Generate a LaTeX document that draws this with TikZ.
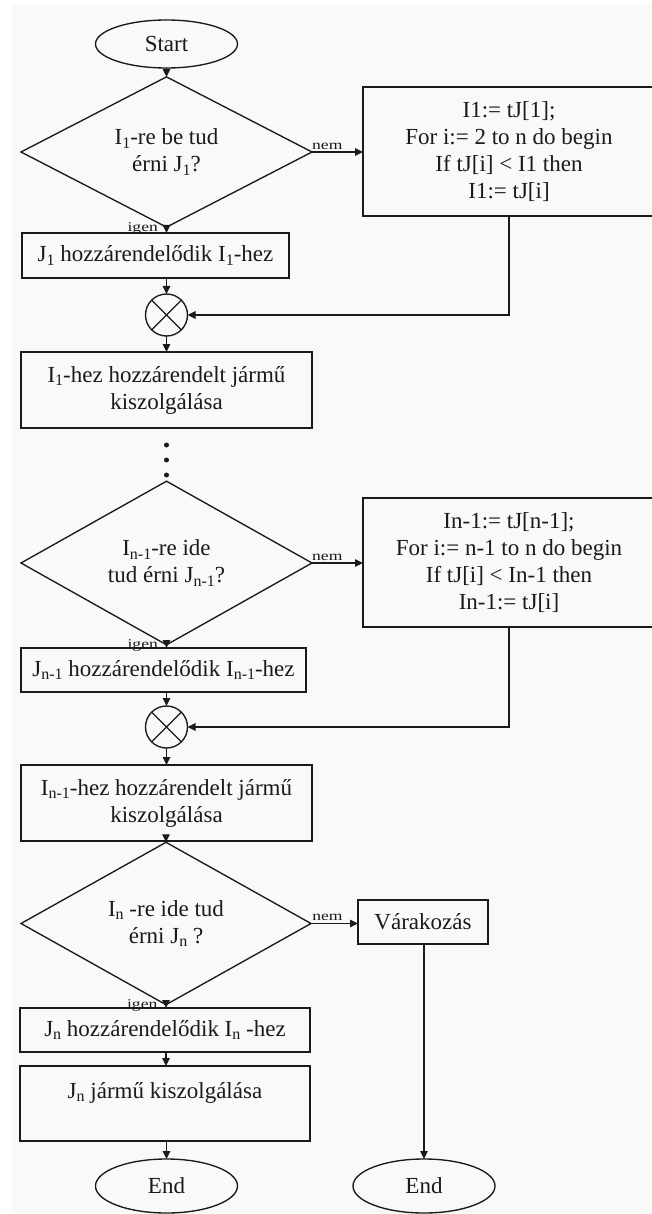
\documentclass[tikz,border=0pt]{standalone}
\usepackage{fontspec}
\setmainfont{Liberation Serif}
\usepackage{graphicx}
\usetikzlibrary{shapes.geometric,arrows.meta}
\definecolor{bg}{HTML}{F9F9F9}
\definecolor{ink}{HTML}{1A1A1A}
\newcommand{\sbs}[1]{\raisebox{-3.5pt}{\fontsize{16}{16}\selectfont #1}}
\newcommand{\lbl}[1]{\scalebox{1.3}[1]{\fontsize{13.5}{13.5}\selectfont #1}}
\begin{document}
\begin{tikzpicture}[x=1pt,y=-1pt,
  every node/.style={font=\fontsize{23}{27}\selectfont, text=ink},
  box/.style={draw=ink, line width=1.35pt, rectangle, inner sep=0pt, outer sep=0pt, align=center},
  term/.style={draw=ink, line width=1.35pt, ellipse, minimum width=142pt, inner sep=0pt, outer sep=0pt},
  dec/.style={draw=ink, line width=1.35pt, diamond, inner sep=0pt, outer sep=0pt, align=center},
  merge/.style={draw=ink, line width=1.35pt, circle, minimum size=42pt, inner sep=0pt, outer sep=0pt},
  dotnode/.style={circle, fill=ink, minimum size=5pt, inner sep=0pt},
  lab/.style={inner sep=0pt},
  arr/.style={draw=ink, line width=1.35pt, -{Triangle[length=8pt,width=7.5pt]}},
  ln/.style={draw=ink, line width=1.1pt}
]
\useasboundingbox (0,0) rectangle (652,1214);
\fill[white] (0,0) rectangle (652,1214);
\fill[bg] (12,5) rectangle (652,1214);

% nodes
\node[term, minimum height=48pt] (start) at (166.5,44) {Start};
\node[dec, minimum width=291pt, minimum height=135pt] (d1) at (166.5,152)
  {I\sbs{1}-re be tud\\érni J\sbs{1}?};
\begin{scope}
\clip (0,0) rectangle (652,1214);
\node[box, minimum width=292pt, minimum height=129pt] (p1) at (509,151.5)
  {I1:= tJ[1];\\For i:= 2 to n do begin\\If tJ[i] < I1 then\\I1:= tJ[i]};
\node[box, minimum width=292pt, minimum height=129pt] (p2) at (509,562.5)
  {In-1:= tJ[n-1];\\For i:= n-1 to n do begin\\If tJ[i] < In-1 then\\In-1:= tJ[i]};
\end{scope}
\node[box, minimum width=267pt, minimum height=45pt] (b1) at (155.5,255.5)
  {J\sbs{1} hozzárendelődik I\sbs{1}-hez};
\node[merge] (c1) at (166.5,315) {};
\node[box, minimum width=291pt, minimum height=76pt] (b2) at (166.5,390)
  {I\sbs{1}-hez hozzárendelt jármű\\kiszolgálása};
\node[dotnode] (dot1) at (166.5,445) {};
\node[dotnode] (dot2) at (166.5,460) {};
\node[dotnode] (dot3) at (166.5,475) {};
\node[dec, minimum width=291pt, minimum height=140pt] (d2) at (166.5,563)
  {I\sbs{n-1}-re ide\\tud érni J\sbs{n-1}?};
\node[box, minimum width=285pt, minimum height=44pt] (b3) at (163.5,670)
  {J\sbs{n-1} hozzárendelődik I\sbs{n-1}-hez};
\node[merge] (c2) at (166.5,727) {};
\node[box, minimum width=291pt, minimum height=76pt] (b4) at (166.5,803)
  {I\sbs{n-1}-hez hozzárendelt jármű\\kiszolgálása};
\node[dec, minimum width=290pt, minimum height=139pt] (d3) at (166,923.5)
  {I\sbs{n} -re ide tud\\érni J\sbs{n} ?};
\node[box, minimum width=130pt, minimum height=44pt] (wait) at (423,922) {Várakozás};
\node[box, minimum width=290pt, minimum height=44pt] (b5) at (165,1030)
  {J\sbs{n} hozzárendelődik I\sbs{n} -hez};
\node[box, minimum width=290pt, minimum height=75pt] (b6) at (165,1103.5)
  {J\sbs{n} jármű kiszolgálása\\\mbox{}};
\node[term, minimum height=54pt] (end1) at (166.5,1186) {End};
\node[term, minimum height=54pt] (end2) at (424,1186) {End};

% X in merge circles
\draw[ln] (c1.45) -- (c1.225) (c1.135) -- (c1.315);
\draw[ln] (c2.45) -- (c2.225) (c2.135) -- (c2.315);

% connectors
\draw[arr] (start.south) -- (d1.north);
\draw[arr] (d1.east) -- (d1.east -| p1.west) node[pos=0.3, above=2pt, lab] {\lbl{nem}};
\draw[arr] (d1.south) -- (d1.south |- b1.north) node[pos=0.2, left=8pt, lab] {\lbl{igen}};
\draw[arr] (b1.south -| c1) -- (c1.north);
\draw[arr] (p1.south) -- (p1.south |- c1) -- (c1.east);
\draw[arr] (c1.south) -- (c1.south |- b2.north);

\draw[arr] (d2.east) -- (d2.east -| p2.west) node[pos=0.3, above=2pt, lab] {\lbl{nem}};
\draw[arr] (d2.south) -- (d2.south |- b3.north) node[pos=0.2, left=8pt, lab] {\lbl{igen}};
\draw[arr] (b3.south -| c2) -- (c2.north);
\draw[arr] (p2.south) -- (p2.south |- c2) -- (c2.east);
\draw[arr] (c2.south) -- (c2.south |- b4.north);
\draw[arr] (b4.south -| d3) -- (d3.north);

\draw[arr] (d3.east) -- (d3.east -| wait.west) node[pos=0.35, above=2pt, lab] {\lbl{nem}};
\draw[arr] (d3.south) -- (d3.south |- b5.north) node[pos=0.2, left=8pt, lab] {\lbl{igen}};
\draw[arr] (b5.south -| d3) -- (b6.north -| d3);
\draw[arr] (b6.south -| end1) -- (end1.north);
\draw[arr] (wait.south -| end2) -- (end2.north);
\end{tikzpicture}
\end{document}
